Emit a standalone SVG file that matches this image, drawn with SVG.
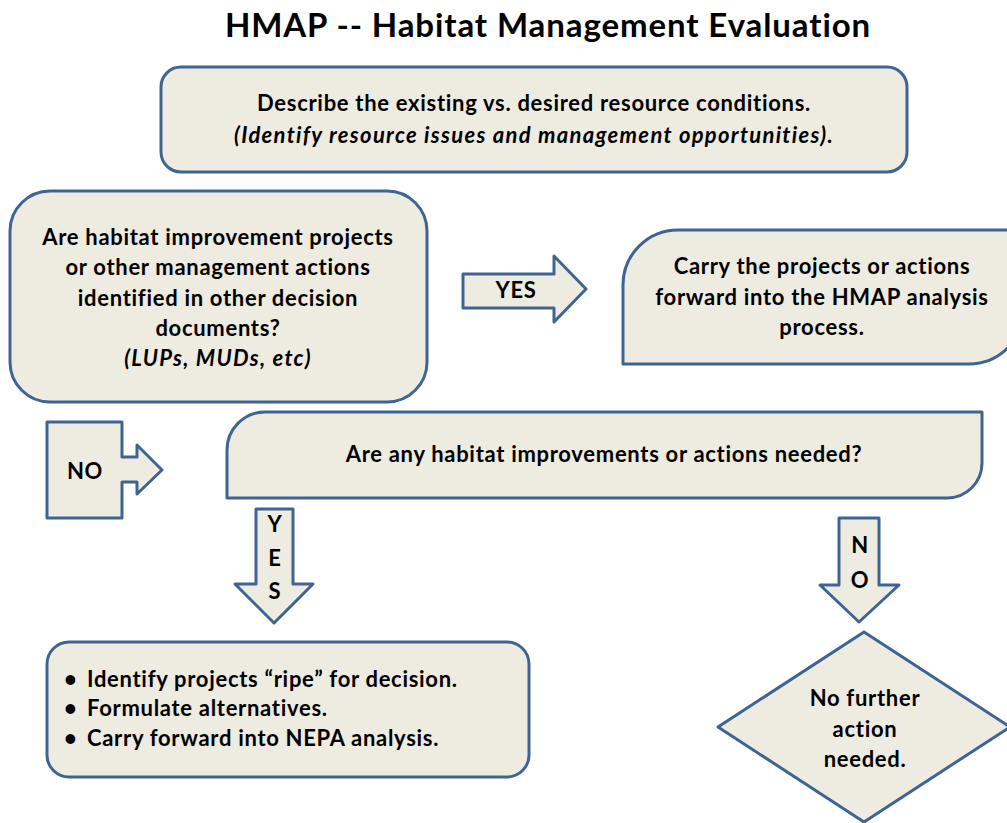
<svg xmlns="http://www.w3.org/2000/svg" width="1007" height="823" viewBox="0 0 1007 823">
<style>
.shape{fill:#EEECE1;stroke:#3F6494;stroke-width:3;stroke-linejoin:round}
text{font-family:Lato,"Open Sans","Liberation Sans",sans-serif;font-weight:bold;fill:#000}
.t{font-size:22px;text-anchor:middle;letter-spacing:0.7px}
.it{font-style:italic;letter-spacing:1.3px}
.l{text-anchor:start}
.title{font-size:33px;text-anchor:middle;letter-spacing:0.9px}
</style>
<rect width="1007" height="823" fill="#FFFFFF"/>
<text class="title" x="548" y="37">HMAP -- Habitat Management Evaluation</text>

<g id="connectors">
  <g id="arrow-yes-right">
    <path class="shape" d="M463,274 H554 V256 L586,289 L554,322 V308 H463 Z"/>
    <text class="t" x="516" y="298">YES</text>
  </g>
  <g id="arrow-no-right">
    <path class="shape" d="M47,422 H122 V457 H137 V445 L162,470 L137,494 V482 H122 V518 H47 Z"/>
    <text class="t" x="85" y="479">NO</text>
  </g>
  <g id="arrow-yes-down">
    <path class="shape" d="M256,509 H293 V584 H313 L274,623 L235,584 H256 Z"/>
    <text class="t" x="275" y="532">Y</text>
    <text class="t" x="275" y="566">E</text>
    <text class="t" x="275" y="599">S</text>
  </g>
  <g id="arrow-no-down">
    <path class="shape" d="M839,518 H879 V585 H899 L859,622 L820,585 H839 Z"/>
    <text class="t" x="860" y="553">N</text>
    <text class="t" x="860" y="588">O</text>
  </g>
</g>

<g id="node-describe">
  <rect class="shape" x="161" y="67" width="746" height="105" rx="20" ry="20"/>
  <text class="t" x="534" y="111">Describe the existing vs. desired resource conditions.</text>
  <text class="t it" x="534" y="143">(Identify resource issues and management opportunities).</text>
</g>

<g id="node-question1">
  <rect class="shape" x="10" y="191" width="417" height="211" rx="40" ry="40"/>
  <text class="t" x="218" y="245">Are habitat improvement projects</text>
  <text class="t" x="218" y="275">or other management actions</text>
  <text class="t" x="218" y="306">identified in other decision</text>
  <text class="t" x="218" y="336">documents?</text>
  <text class="t it" x="218" y="366">(LUPs, MUDs, etc)</text>
</g>

<g id="node-carry">
  <path class="shape" d="M623,364 V285 A55,55 0 0 1 678,230 H1024 V309 A55,55 0 0 1 969,364 Z"/>
  <text class="t" x="822" y="274">Carry the projects or actions</text>
  <text class="t" x="822" y="305">forward into the HMAP analysis</text>
  <text class="t" x="822" y="335">process.</text>
</g>

<g id="node-question2">
  <path class="shape" d="M227,498 V450 A38,38 0 0 1 265,412 H982 V463 A35,35 0 0 1 947,498 Z"/>
  <text class="t" x="604" y="462">Are any habitat improvements or actions needed?</text>
</g>

<g id="node-actions">
  <rect class="shape" x="47" y="642" width="482" height="135" rx="22" ry="22"/>
  <text class="t l" x="64" y="687">•</text>
  <text class="t l" x="87" y="687">Identify projects “ripe” for decision.</text>
  <text class="t l" x="64" y="716">•</text>
  <text class="t l" x="87" y="716">Formulate alternatives.</text>
  <text class="t l" x="64" y="746">•</text>
  <text class="t l" x="87" y="746">Carry forward into NEPA analysis.</text>
</g>

<g id="node-nofurther">
  <path class="shape" d="M864,632 L1010,727 L864,822 L718,727 Z"/>
  <text class="t" x="865" y="706">No further</text>
  <text class="t" x="865" y="737">action</text>
  <text class="t" x="865" y="767">needed.</text>
</g>
</svg>
